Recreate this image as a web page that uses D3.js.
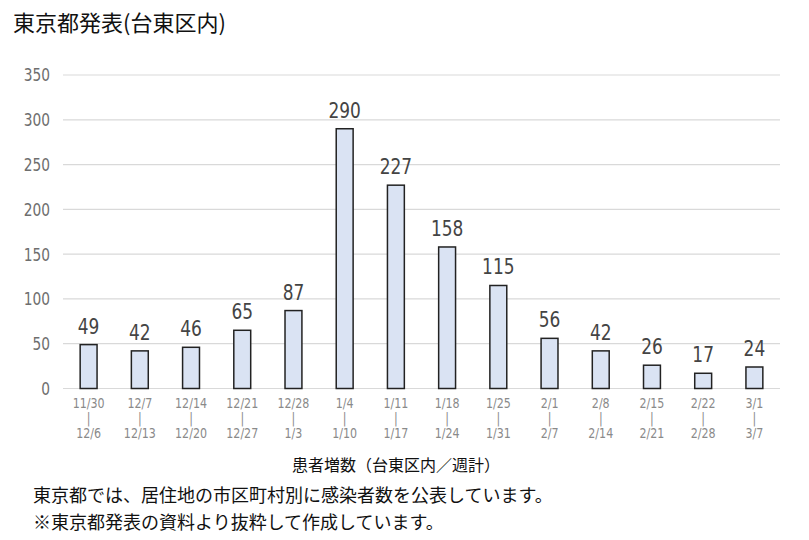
<!DOCTYPE html>
<html>
<head>
<meta charset="utf-8">
<script src="https://cdn.jsdelivr.net/npm/d3@7"></script>
<style>
    body { margin: 0; background: #fff; }
    text.cjk { font-family: "Noto Sans CJK JP", "Noto Sans", sans-serif; }
    text.num { font-family: "Liberation Sans Narrow", "DejaVu Sans Condensed", "Roboto", sans-serif; }
</style>
</head>
<body>
<svg id="chart" width="809" height="540"></svg>
<script>
"use strict";

// week start / end labels and weekly new cases
var week_start = ["11/30", "12/7", "12/14", "12/21", "12/28", "1/4", "1/11",
                  "1/18", "1/25", "2/1", "2/8", "2/15", "2/22", "3/1"];
var week_end = ["12/6", "12/13", "12/20", "12/27", "1/3", "1/10", "1/17",
                "1/24", "1/31", "2/7", "2/14", "2/21", "2/28", "3/7"];
var cases = [49, 42, 46, 65, 87, 290, 227, 158, 115, 56, 42, 26, 17, 24];
var y_ticks = [0, 50, 100, 150, 200, 250, 300, 350];

var svg = d3.select("#chart");

var x = d3.scaleBand()
    .domain(week_start)
    .range([63, 780])
    .paddingInner(0.67)
    .paddingOuter(0.335);

var y = d3.scaleLinear()
    .domain([0, 350])
    .range([388.5, 75]);

// narrow the number font a bit, the original uses a condensed face
function squeeze(sx, fx, fy) {
    return function (d, i) {
        return "translate(" + fx(d, i) + "," + fy(d, i) + ") scale(" + sx + ",1)";
    };
}

function bar_center(i) {
    return x(week_start[i]) + x.bandwidth() / 2;
}

// title
svg.append("text")
    .attr("class", "cjk")
    .attr("x", 13)
    .attr("y", 31)
    .attr("font-size", 22)
    .attr("fill", "#111")
    .text("東京都発表(台東区内)");

// grid lines
svg.append("g")
    .selectAll("line")
    .data(y_ticks)
    .enter().append("line")
    .attr("x1", 63)
    .attr("x2", 780)
    .attr("y1", function (d) { return y(d); })
    .attr("y2", function (d) { return y(d); })
    .attr("stroke", "#d9d9d9")
    .attr("stroke-width", 1.2);

// y tick labels
svg.append("g")
    .selectAll("text")
    .data(y_ticks)
    .enter().append("text")
    .attr("class", "num")
    .attr("transform", squeeze(0.85,
        function () { return 50; },
        function (d) { return y(d); }))
    .attr("dy", "0.36em")
    .attr("text-anchor", "end")
    .attr("font-size", 18)
    .attr("fill", "#6e6e6e")
    .text(function (d) { return d; });

// bars
svg.append("g")
    .selectAll("rect")
    .data(cases)
    .enter().append("rect")
    .attr("x", function (d, i) { return x(week_start[i]); })
    .attr("y", function (d) { return y(d); })
    .attr("width", x.bandwidth())
    .attr("height", function (d) { return y(0) - y(d); })
    .attr("fill", "#dae3f3")
    .attr("stroke", "#222")
    .attr("stroke-width", 1.5);

// value labels
svg.append("g")
    .selectAll("text")
    .data(cases)
    .enter().append("text")
    .attr("class", "num")
    .attr("transform", squeeze(0.9,
        function (d, i) { return bar_center(i); },
        function (d) { return y(d) - 11; }))
    .attr("text-anchor", "middle")
    .attr("font-size", 21)
    .attr("fill", "#444")
    .text(function (d) { return d; });

// x labels: start, separator, end
var rows = [
    { y: 403, text: function (d) { return d; } },
    { y: 418, text: function () { return "|"; } },
    { y: 433, text: function (d, i) { return week_end[i]; } }
];
rows.forEach(function (r) {
    svg.append("g")
        .selectAll("text")
        .data(week_start)
        .enter().append("text")
        .attr("class", "num")
        .attr("transform", squeeze(0.88,
            function (d, i) { return bar_center(i); },
            function () { return r.y; }))
        .attr("dy", "0.36em")
        .attr("text-anchor", "middle")
        .attr("font-size", 14)
        .attr("fill", "#8a8a8a")
        .text(r.text);
});

// axis title
svg.append("text")
    .attr("class", "cjk")
    .attr("x", 396)
    .attr("y", 471)
    .attr("text-anchor", "middle")
    .attr("font-size", 16)
    .attr("fill", "#111")
    .text("患者増数（台東区内／週計）");

// notes
svg.append("text")
    .attr("class", "cjk")
    .attr("x", 33)
    .attr("y", 502)
    .attr("font-size", 18)
    .attr("fill", "#111")
    .text("東京都では、居住地の市区町村別に感染者数を公表しています。");

svg.append("text")
    .attr("class", "cjk")
    .attr("x", 33)
    .attr("y", 529)
    .attr("font-size", 18)
    .attr("fill", "#111")
    .text("※東京都発表の資料より抜粋して作成しています。");
</script>
</body>
</html>
